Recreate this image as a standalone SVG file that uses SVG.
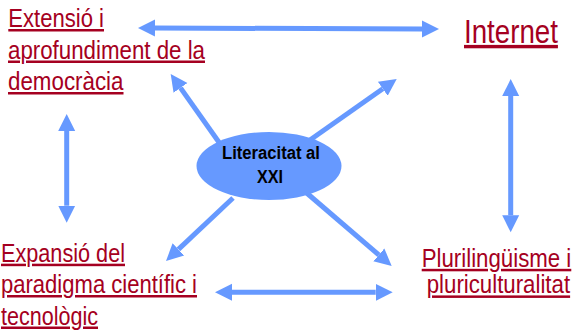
<svg xmlns="http://www.w3.org/2000/svg" width="573" height="335" viewBox="0 0 573 335">
<style>
.lbl{font-family:"Liberation Sans",Arial,sans-serif;fill:#A50021;text-decoration:underline;}
.ctr{font-family:"Liberation Sans",Arial,sans-serif;font-weight:bold;fill:#000;font-size:17.5px;text-anchor:middle;}
.arr{stroke:#6699FF;stroke-width:5;fill:none;marker-start:url(#head);marker-end:url(#head);}
.one{stroke:#6699FF;stroke-width:5;fill:none;marker-end:url(#head);}
</style>
<defs>
<marker id="head" markerUnits="userSpaceOnUse" markerWidth="20" markerHeight="20" refX="0" refY="9" viewBox="0 0 20 18" orient="auto-start-reverse">
<path d="M0,0.5 L17,9 L0,17.5 z" fill="#6699FF"/>
</marker>
</defs>
<g id="connectors">
<line class="arr" x1="155" y1="28" x2="422" y2="29"/>
<line class="arr" x1="66.7" y1="131" x2="66.7" y2="205.7"/>
<line class="arr" x1="510.7" y1="96" x2="510.7" y2="215.3"/>
<line class="arr" x1="232" y1="292.3" x2="375.7" y2="292.3"/>
<line class="one" x1="223" y1="148" x2="180.5" y2="87.9"/>
<line class="one" x1="310" y1="140" x2="382.8" y2="88.8"/>
<line class="one" x1="233" y1="198" x2="178.4" y2="249.4"/>
<line class="one" x1="306.7" y1="193" x2="378.8" y2="254.9"/>
</g>
<g id="center">
<ellipse cx="269" cy="166" rx="72.5" ry="34" fill="#6699FF"/>
<text class="ctr" x="271" y="159" textLength="98" lengthAdjust="spacingAndGlyphs">Literacitat al</text>
<text class="ctr" x="270" y="183.3" textLength="26" lengthAdjust="spacingAndGlyphs">XXI</text>
</g>
<g id="democracia">
<text class="lbl" font-size="25" x="8.3" y="27" textLength="95.7" lengthAdjust="spacingAndGlyphs">Extensió i</text>
<text class="lbl" font-size="25" x="8" y="58.5" textLength="197" lengthAdjust="spacingAndGlyphs">aprofundiment de la</text>
<text class="lbl" font-size="25" x="8" y="90" textLength="115.5" lengthAdjust="spacingAndGlyphs">democràcia</text>
</g>
<g id="internet">
<text class="lbl" font-size="34" transform="translate(464,42.7) scale(0.815,1)" x="0" y="0">Internet</text>
</g>
<g id="paradigma">
<text class="lbl" font-size="25" x="1" y="261.7" textLength="124" lengthAdjust="spacingAndGlyphs">Expansió del</text>
<text class="lbl" font-size="25" x="1" y="293" textLength="196" lengthAdjust="spacingAndGlyphs">paradigma científic i</text>
<text class="lbl" font-size="25" x="1" y="324.5" textLength="97" lengthAdjust="spacingAndGlyphs">tecnològic</text>
</g>
<g id="plurilinguisme">
<text class="lbl" font-size="25" transform="translate(421.7,266.7) scale(0.89,1)" x="0" y="0">Plurilingüisme i</text>
<text class="lbl" font-size="25" transform="translate(426.7,293.3) scale(0.89,1)" x="0" y="0">pluriculturalitat</text>
</g>
</svg>
